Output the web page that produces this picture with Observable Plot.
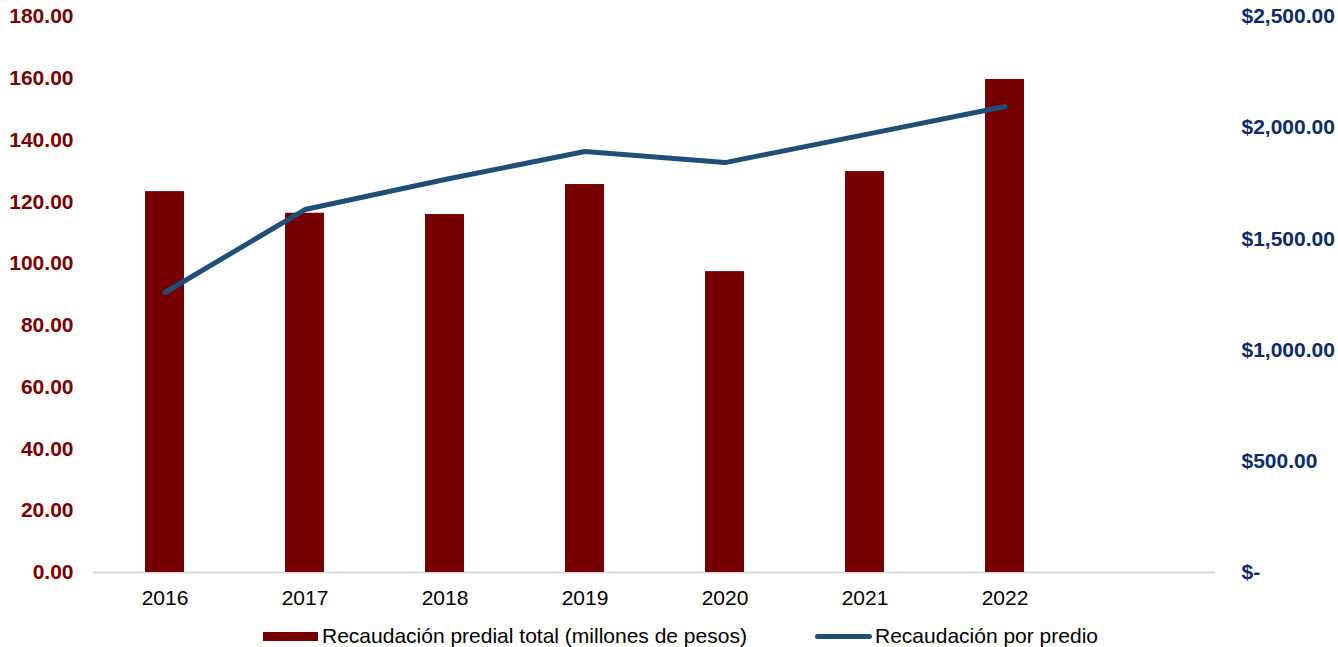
<!DOCTYPE html>
<html><head><meta charset="utf-8">
<script src="https://cdn.jsdelivr.net/npm/d3@7"></script>
<script src="https://cdn.jsdelivr.net/npm/@observablehq/plot@0.6"></script>
<style>
body{margin:0;background:#fff;font-family:"Liberation Sans",Arial,sans-serif;}
#wrap{position:relative;width:1338px;height:647px;overflow:hidden;}
#chart svg{display:block;}
.lg{position:absolute;font-size:21px;color:#000;line-height:24px;white-space:nowrap;}
.sw{position:absolute;}
</style></head><body>
<div id="wrap"><div id="chart"></div>
<div class="sw" style="left:263px;top:632px;width:55px;height:9px;background:#760000"></div>
<div class="lg" style="left:322px;top:623.5px">Recaudación predial total (millones de pesos)</div>
<div class="sw" style="left:815px;top:634px;width:57px;height:5px;border-radius:3px;background:#1f4e79"></div>
<div class="lg" style="left:875px;top:623.5px">Recaudación por predio</div>
</div>
<script>
const years = ["2016","2017","2018","2019","2020","2021","2022"];
const totalRevenue = [123.3, 116.3, 115.9, 125.6, 97.4, 129.8, 159.6];
const perProperty = [1259, 1632, 1767, 1893, 1843, 1969, 2095];
const leftTicks = [0,20,40,60,80,100,120,140,160,180];
const rightTicks = [0,500,1000,1500,2000,2500];
const leftMax = 180, rightMax = 2500;

const toLeft = v => v*leftMax/rightMax;
const data = years.map((y,i)=>({year:y,total:totalRevenue[i],perProp:toLeft(perProperty[i])}));
const fmtRight = v => v === 0 ? "$-" : "$" + d3.format(",.2f")(v);

const chart = Plot.plot({
  width:1338, height:620,
  marginLeft:93, marginRight:123, marginTop:16, marginBottom:48,
  style:{fontFamily:'"Liberation Sans", Arial, sans-serif', fontSize:"21px", background:"white", overflow:"visible"},
  x:{domain:[...years,""], paddingInner:0.724, paddingOuter:0.362, axis:null},
  y:{domain:[0,leftMax], axis:null},
  marks:[
    Plot.ruleY([0],{stroke:"#d9d9d9", strokeWidth:2}),
    Plot.barY(data,{x:"year", y:"total", fill:"#760000"}),
    Plot.lineY(data,{x:"year", y:"perProp", stroke:"#1f4e79", strokeWidth:5, strokeLinecap:"round", strokeLinejoin:"round"}),
    Plot.axisX({tickSize:0, tickPadding:18, fontSize:21, color:"#000", fill:"#000", label:null}),
    Plot.axisY({anchor:"left", ticks:leftTicks, tickSize:0, tickPadding:20, tickFormat:d3.format(".2f"), fontSize:21, fontWeight:"bold", color:"#7a0000", fill:"#7a0000", label:null}),
    Plot.axisY({anchor:"right", ticks:rightTicks.map(toLeft), tickSize:0, tickPadding:26, tickFormat:v=>fmtRight(Math.round(v*rightMax/leftMax)), fontSize:21, fontWeight:"bold", color:"#0c2b6b", fill:"#0c2b6b", textAnchor:"start", label:null})
  ]
});
document.getElementById("chart").appendChild(chart);
</script>
</body></html>
